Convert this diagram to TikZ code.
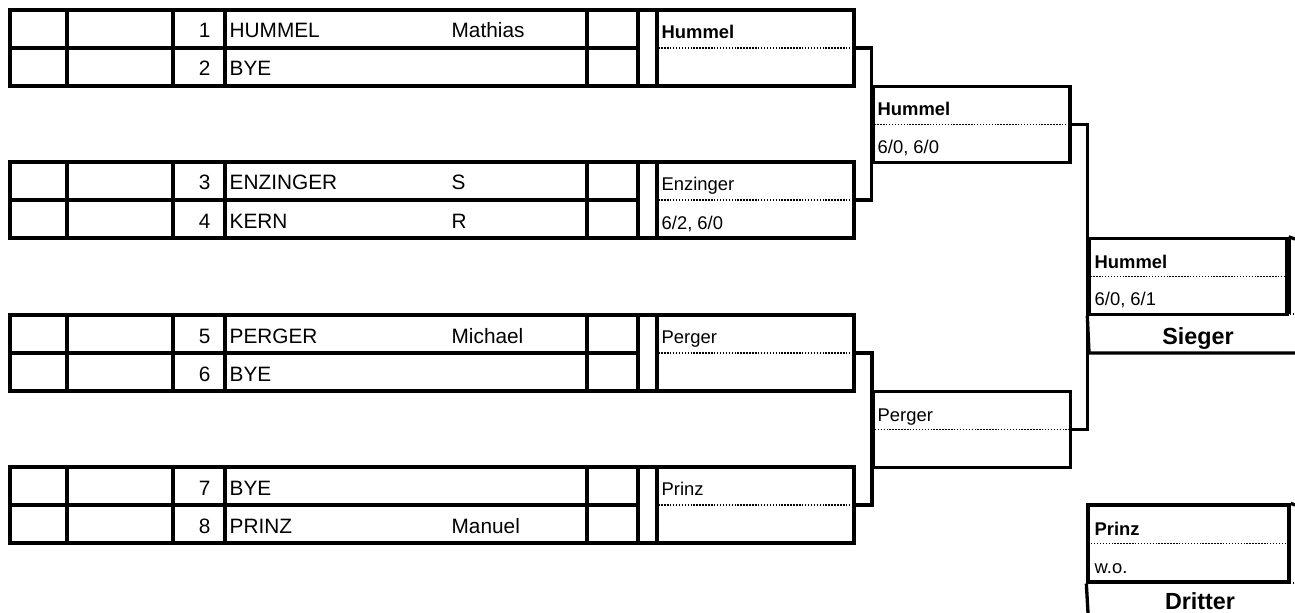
\documentclass[tikz,border=0pt]{standalone}
\usepackage{fontspec}
\setmainfont{Liberation Sans}
\newcommand{\playerfont}{\fontsize{15.6}{18}\selectfont}
\newcommand{\winfont}{\fontsize{13.8}{16}\selectfont}
\newcommand{\placefont}{\fontsize{17.5}{20}\selectfont\bfseries}
\tikzset{
  thickline/.style={line width=2.5pt},
  dotline/.style={line width=1.1pt,dash pattern=on 1.1pt off 1.1pt},
  winbox/.style={draw,thickline,rectangle,inner sep=0pt,minimum width=147.75pt,minimum height=57pt},
  playertxt/.style={inner sep=0pt,font=\playerfont},
  wintxt/.style={inner sep=0pt,font=\winfont,anchor=base west},
  boldtxt/.style={wintxt,font=\winfont\bfseries},
}

\begin{document}
\begin{tikzpicture}[x=0.75pt,y=-0.75pt,thickline]
\useasboundingbox (0,0) rectangle (1295,613);

% Draw table
\foreach \t in {10,162,315,467} {
    \draw (10,\t) rectangle (657,\t+76);
    \draw (10,\t+38) -- (638,\t+38);
    \foreach \x in {67,173,225,587,638} {
        \draw (\x,\t) -- (\x,\t+76);
    }
}

% Players
\foreach \s/\y/\last/\first in {1/38/HUMMEL/Mathias,2/76/BYE/,3/190/ENZINGER/S,4/228/KERN/R,5/343/PERGER/Michael,6/381/BYE/,7/495/BYE/,8/533/PRINZ/Manuel} {
    \node[playertxt,anchor=base east] (s\s) at (212,\y) {\s};
    \node[playertxt,anchor=base west] (n\s) at (228,\y) {\last};
    \node[playertxt,anchor=base west] (f\s) at (450,\y) {\first};
}

% Round 1
\foreach \n/\y in {a/48,b/200,c/353,d/505} {
    \node[winbox] (r1\n) at (755.5,\y) {};
}
\node[boldtxt] (w1a) at (660,38.5) {Hummel};
\node[wintxt] (w1b) at (660,190.5) {Enzinger};
\node[wintxt] (e1b) at (660,229) {6/2, 6/0};
\node[wintxt] (w1c) at (660,343.5) {Perger};
\node[wintxt] (w1d) at (660,495.5) {Prinz};

% Round 2
\node[winbox] (r2a) at (971.5,124.5) {};
\node[winbox] (r2b) at (972,429.5) {};
\node[boldtxt] (w2a) at (876,116) {Hummel};
\node[wintxt] (e2a) at (876,153.5) {6/0, 6/0};
\node[wintxt] (w2b) at (876,421) {Perger};

% Final
\node[winbox,minimum width=148.5pt] (fin) at (1188,276.5) {};
\node[boldtxt] (wfin) at (1093,268) {Hummel};
\node[wintxt] (efin) at (1093,305.5) {6/0, 6/1};
\draw[line width=0.8pt] (1290,239) -- (1290,314);
\draw (fin.north east) -- (1295,239);
\draw[dotline] (1290,314) -- (1295,314);
\draw (fin.south west) -- (1089,353) -- (1295,353);
\node[inner sep=0pt,font=\placefont,anchor=base] (sieger) at (1198,344) {Sieger};

% Third place
\node[winbox,minimum width=150.75pt,minimum height=57.75pt] (drit) at (1188.5,543.5) {};
\draw[line width=0.8pt] ([shift={(3.5,3)}]drit.north west) rectangle ([shift={(-3,-3)}]drit.south east);
\draw (drit.north east) -- (1295,505);
\draw[dotline] (1290,583) -- (1295,583);
\draw (drit.south west) -- (1088,613);
\node[boldtxt] (wdrit) at (1093,535) {Prinz};
\node[wintxt] (edrit) at (1093,573) {w.o.};
\node[inner sep=0pt,font=\placefont,anchor=base] (dritter) at (1200,609) {Dritter};

% Dotted lines
\foreach \n in {r1a,r1b,r1c,r1d,r2a,r2b,fin} {
    \draw[dotline] (\n.west) -- (\n.east);
}
\draw[dotline] ([xshift=3.5]drit.west) -- ([xshift=-3]drit.east);

% Connections
\draw (r1a.east) -| (r2a.west) |- (r1b.east);
\draw (r1c.east) -| (r2b.west) |- (r1d.east);
\draw (r2a.east) -| (fin.west) |- (r2b.east);
\end{tikzpicture}
\end{document}
